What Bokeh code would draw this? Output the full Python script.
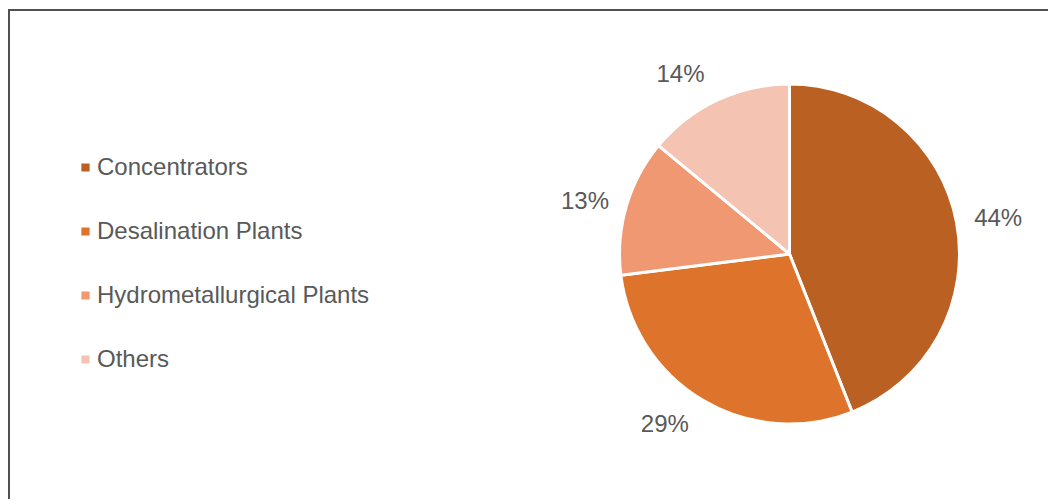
import math
from bokeh.plotting import figure
from bokeh.models import ColumnDataSource, Range1d, Legend, LegendItem
from bokeh.core.properties import value
from bokeh.embed import file_html
from bokeh.resources import INLINE

# ---- data ----
categories = ["Concentrators", "Desalination Plants", "Hydrometallurgical Plants", "Others"]
shares = [44, 29, 13, 14]
labels = ["44%", "29%", "13%", "14%"]
colors = ["#BB6023", "#DE742C", "#F09872", "#F5C3B2"]

# ---- layout constants ----
W, H = 1040, 490
CX, CY = 779, 247.5        # pie centre (data units == pixels)
R = 170                    # pie radius (screen px)
LABEL_R = 188              # label anchor radius (screen px)
HALF_W, HALF_H = 24, 9     # half label box
DIAG_EXTRA = 5
FONT = "Liberation Sans"
TEXT_COLOR = "#595959"

total = float(sum(shares))
starts, ends, mids = [], [], []
cum = 0.0
for v in shares:
    a0 = math.pi / 2 - 2 * math.pi * cum / total
    cum += v
    a1 = math.pi / 2 - 2 * math.pi * cum / total
    starts.append(a0)
    ends.append(a1)
    mids.append((a0 + a1) / 2)

lx, ly = [], []
for m in mids:
    c, s = math.cos(m), math.sin(m)
    sx = 1 if c > 0.25 else (-1 if c < -0.25 else 0)
    sy = 1 if s > 0.5 else (-1 if s < -0.5 else 0)
    lx.append(CX + LABEL_R * c + sx * (HALF_W + DIAG_EXTRA * abs(sy)))
    ly.append(CY + LABEL_R * s + sy * HALF_H + 1)

src = ColumnDataSource(dict(cat=categories, share=shares, color=colors,
                            start=starts, end=ends,
                            x=[CX] * len(shares), y=[CY] * len(shares)))
lsrc = ColumnDataSource(dict(x=lx, y=ly, text=labels))

p = figure(width=W, height=H, output_backend="svg", toolbar_location=None,
           x_range=Range1d(0, W), y_range=Range1d(0, H),
           x_axis_location=None, y_axis_location=None,
           min_border=0, outline_line_color=None)
p.grid.visible = False
p.styles = {"border-top": "2px solid #505050", "border-left": "2px solid #505050",
            "margin-left": "8px", "margin-top": "9px"}

r = p.wedge(x="x", y="y", radius=R, radius_units="screen",
            start_angle="end", end_angle="start", direction="anticlock",
            fill_color="color", line_color="white", line_width=3, source=src)

p.text(x="x", y="y", text="text", source=lsrc,
       text_align="center", text_baseline="middle",
       text_font=value(FONT), text_font_size="24px", text_color=TEXT_COLOR)

items = [LegendItem(label=c, renderers=[r], index=i) for i, c in enumerate(categories)]
legend = Legend(items=items, location=(68, 128), orientation="vertical",
                glyph_width=14, glyph_height=14, label_standoff=5,
                label_height=27, spacing=36, padding=0, margin=0,
                border_line_color=None, background_fill_alpha=0,
                label_text_font=FONT, label_text_font_size="24px",
                label_text_color=TEXT_COLOR)
p.add_layout(legend, "center")

open("out.html", "w").write(file_html(p, INLINE))
